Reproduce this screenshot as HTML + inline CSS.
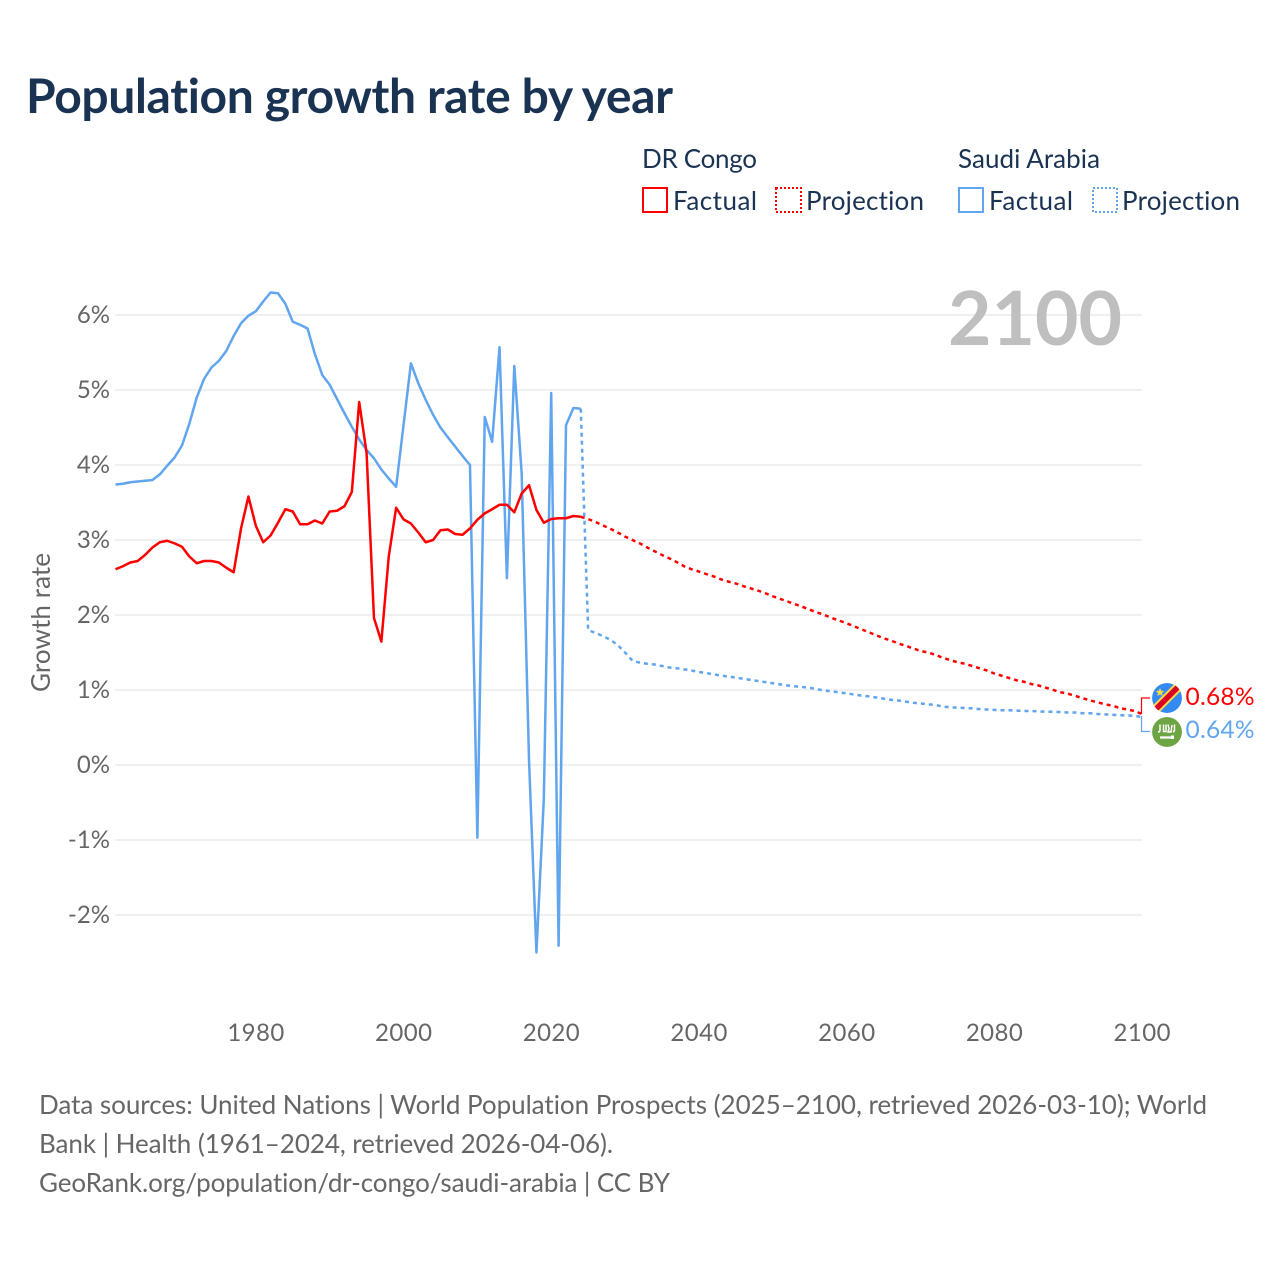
<!DOCTYPE html>
<html lang="en">
<head>
<meta charset="utf-8">
<title>Population growth rate by year</title>
<style>
html,body{margin:0;padding:0;background:#fff;}
svg{display:block;font-family:"Lato","Carlito","Liberation Sans",sans-serif;font-variant-ligatures:none;font-feature-settings:"liga" 0,"clig" 0;}
</style>
</head>
<body>
<svg id="chart" width="1280" height="1280" viewBox="0 0 1280 1280" xmlns="http://www.w3.org/2000/svg">
  <defs>
    <clipPath id="flag-cd"><circle cx="1167" cy="698" r="15"/></clipPath>
    <clipPath id="flag-sa"><circle cx="1167" cy="732" r="15"/></clipPath>
  </defs>
  <rect width="1280" height="1280" fill="#fff"/>
  <text x="26" y="113" font-size="48" font-weight="700" fill="#1a3353" textLength="647">Population growth rate by year</text>

  <g font-size="26" fill="#1a3353">
    <text x="642" y="168" textLength="115">DR Congo</text>
    <text x="958" y="168" textLength="142">Saudi Arabia</text>
    <rect x="643" y="188" width="24" height="24" fill="none" stroke="#ff0000" stroke-width="2"/>
    <text x="673" y="210" textLength="84">Factual</text>
    <rect x="776" y="188" width="25" height="24" fill="none" stroke="#ff0000" stroke-width="2" stroke-dasharray="2 2"/>
    <text x="806" y="210" textLength="118">Projection</text>
    <rect x="959" y="188" width="24" height="24" fill="none" stroke="#60a5ee" stroke-width="2"/>
    <text x="989" y="210" textLength="84">Factual</text>
    <rect x="1093" y="188" width="24" height="24" fill="none" stroke="#60a5ee" stroke-width="2" stroke-dasharray="2 2"/>
    <text x="1122" y="210" textLength="118">Projection</text>
  </g>

  <g id="grid"></g>
  <text x="948" y="345" font-size="75" font-weight="700" fill="#bfbfbf" textLength="174">2100</text>
  <g id="yticks" font-size="24" fill="#666" text-anchor="end"></g>
  <g id="xticks" font-size="24" fill="#666" text-anchor="middle"></g>
  <text transform="translate(50,692) rotate(-90)" font-size="26" fill="#666" textLength="139">Growth rate</text>
  <g id="series" fill="none" stroke-width="2.5" stroke-linejoin="round"></g>

  <g>
    <path d="M1141.5 714V698H1150" fill="none" stroke="#ff0000" stroke-width="1.2"/>
    <path d="M1141.5 716V731.5H1150" fill="none" stroke="#60a5ee" stroke-width="1.2"/>
    <g clip-path="url(#flag-cd)">
      <circle cx="1167" cy="698" r="15" fill="#338af3"/>
      <line x1="1150" y1="715" x2="1184" y2="681" stroke="#ffda44" stroke-width="9.5"/>
      <line x1="1150" y1="715" x2="1184" y2="681" stroke="#d80027" stroke-width="5.5"/>
      <polygon points="1160,688 1161.2,690.8 1164.2,691 1162,693 1162.6,696 1160,694.4 1157.4,696 1158,693 1155.8,691 1158.8,690.8" fill="#ffda44"/>
    </g>
    <g clip-path="url(#flag-sa)">
      <circle cx="1167" cy="732" r="15" fill="#6da544"/>
      <path d="M1160 724.5v5.5q0 2-2 2M1163.5 724.5v7h2.5v-7M1168 724.5l1 4-1 3.5h3l1-7M1174.5 724.5v5q0 2-1.5 2.5" fill="none" stroke="#fff" stroke-width="1.5"/>
      <path d="M1160 737.5h11" fill="none" stroke="#fff" stroke-width="2.2"/>
      <path d="M1171 735.5h3v3.5h-3z" fill="#fff"/>
    </g>
    <text x="1185.5" y="705" font-size="24.5" fill="#ff0000" textLength="69">0.68%</text>
    <text x="1185.5" y="738" font-size="24.5" fill="#60a5ee" textLength="69">0.64%</text>
  </g>

  <g font-size="26" fill="#666">
    <text x="39" y="1114" textLength="1168">Data sources: United Nations | World Population Prospects (2025–2100, retrieved 2026-03-10); World</text>
    <text x="39" y="1153" textLength="574">Bank | Health (1961–2024, retrieved 2026-04-06).</text>
    <text x="39" y="1192" textLength="631">GeoRank.org/population/dr-congo/saudi-arabia | CC BY</text>
  </g>
</svg>
<script>
const yTickValues = [6, 5, 4, 3, 2, 1, 0, -1, -2];
const xTickYears = [1980, 2000, 2020, 2040, 2060, 2080, 2100];
const factualStartYear = 1961;
const projectionStartYear = 2024;

const congoFactual = [2.61,2.65,2.70,2.72,2.80,2.90,2.97,2.99,2.955,2.91,
  2.78,2.69,2.72,2.72,2.70,2.63,2.57,3.155,3.58,3.19,
  2.97,3.06,3.23,3.41,3.38,3.21,3.21,3.26,3.22,3.38,
  3.39,3.45,3.64,4.84,4.16,1.96,1.645,2.78,3.43,3.275,
  3.22,3.10,2.97,3.00,3.13,3.14,3.08,3.07,3.155,3.27,
  3.355,3.41,3.47,3.47,3.37,3.62,3.73,3.40,3.23,3.28,
  3.29,3.29,3.32,3.31];

const congoProjection = [3.31,3.28,3.24,3.195,3.15,3.10,3.045,3.00,2.955,2.90,2.85,
  2.80,2.755,2.705,2.65,2.61,2.58,2.545,2.515,2.475,2.445,
  2.42,2.385,2.355,2.325,2.29,2.25,2.215,2.18,2.145,2.11,
  2.07,2.035,2.00,1.96,1.925,1.89,1.85,1.81,1.77,1.73,
  1.69,1.66,1.62,1.59,1.555,1.52,1.50,1.47,1.43,1.40,
  1.37,1.35,1.32,1.29,1.26,1.22,1.19,1.16,1.13,1.11,
  1.08,1.06,1.03,1.00,0.97,0.95,0.92,0.89,0.86,0.835,
  0.81,0.79,0.76,0.74,0.72,0.68];

const saudiFactual = [3.74,3.75,3.77,3.78,3.79,3.80,3.875,3.99,4.10,4.26,
  4.55,4.90,5.15,5.30,5.39,5.52,5.72,5.89,5.99,6.05,
  6.18,6.30,6.29,6.15,5.91,5.87,5.82,5.48,5.20,5.07,
  4.88,4.69,4.51,4.34,4.20,4.09,3.94,3.82,3.71,4.53,
  5.355,5.09,4.87,4.67,4.50,4.37,4.245,4.12,4.00,-0.97,
  4.64,4.31,5.57,2.49,5.32,3.89,0.05,-2.50,-0.45,4.96,
  -2.41,4.53,4.76,4.75];

const saudiProjection = [4.75,1.80,1.76,1.72,1.67,1.60,1.50,1.39,1.365,1.35,1.34,
  1.32,1.30,1.29,1.275,1.26,1.24,1.225,1.21,1.19,1.18,
  1.165,1.15,1.135,1.12,1.105,1.09,1.075,1.06,1.05,1.04,
  1.03,1.01,0.995,0.98,0.97,0.955,0.94,0.925,0.915,0.90,
  0.885,0.87,0.86,0.845,0.83,0.82,0.81,0.80,0.78,0.77,
  0.765,0.76,0.755,0.745,0.74,0.735,0.73,0.73,0.725,0.72,
  0.72,0.715,0.71,0.71,0.705,0.70,0.70,0.69,0.69,0.68,
  0.675,0.67,0.665,0.66,0.655,0.64];

const NS = 'http://www.w3.org/2000/svg';
function xScale(year) { return 115.5 + (year - 1961) * 7.385; }
function yScale(value) { return 765 - value * 75; }

const grid = document.getElementById('grid');
const yticks = document.getElementById('yticks');
const xticks = document.getElementById('xticks');
const series = document.getElementById('series');

yTickValues.forEach(function (v) {
  const line = document.createElementNS(NS, 'line');
  
  
  line.setAttribute('x1', 115);
  line.setAttribute('x2', 1142);
  line.setAttribute('y1', yScale(v));
  line.setAttribute('y2', yScale(v));
  line.setAttribute('stroke', '#ececec');
  line.setAttribute('stroke-width', '1.5');
  grid.appendChild(line);

  const label = document.createElementNS(NS, 'text');
  
  
  label.setAttribute('x', 110);
  label.setAttribute('y', yScale(v) + 8);
  label.textContent = v + '%';
  yticks.appendChild(label);
});

xTickYears.forEach(function (yr) {
  const label = document.createElementNS(NS, 'text');
  
  
  label.setAttribute('x', xScale(yr));
  label.setAttribute('y', 1041);
  label.setAttribute('textLength', 57);
  label.textContent = yr;
  xticks.appendChild(label);
});

function drawLine(values, startYear, color, dashed, name) {
  const pts = values.map(function (v, i) {
    return xScale(startYear + i).toFixed(2) + ',' + yScale(v).toFixed(2);
  }).join(' ');
  const line = document.createElementNS(NS, 'polyline');
  
  
  line.setAttribute('points', pts);
  line.setAttribute('stroke', color);
  if (dashed) line.setAttribute('stroke-dasharray', '4 4');
  series.appendChild(line);
}

drawLine(saudiFactual, factualStartYear, '#60a5ee', false, 'line-saudi-arabia-factual');
drawLine(congoFactual, factualStartYear, '#ff0000', false, 'line-dr-congo-factual');
drawLine(congoProjection, projectionStartYear, '#ff0000', true, 'line-dr-congo-projection');
drawLine(saudiProjection, projectionStartYear, '#60a5ee', true, 'line-saudi-arabia-projection');
</script>
</body>
</html>
